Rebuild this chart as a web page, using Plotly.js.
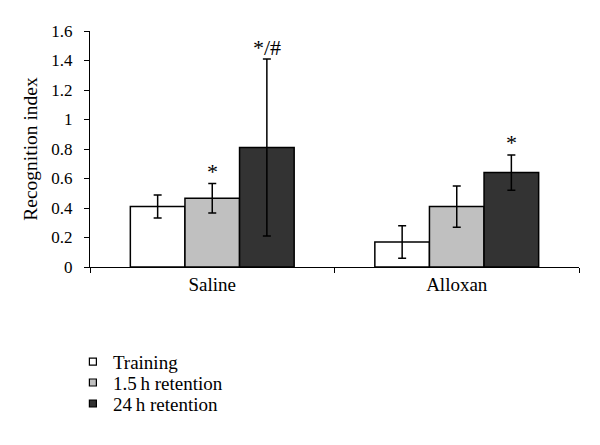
<!DOCTYPE html>
<html>
<head>
<meta charset="utf-8">
<script src="https://cdn.plot.ly/plotly-3.0.1.min.js"></script>
<style>html,body{margin:0;padding:0;background:#fff;}#chart{width:600px;height:445px;}</style>
</head>
<body>
<div id="chart"></div>
<script>
var categories = ["Saline", "Alloxan"];
var seriesNames = ["Training", "1.5\u2009h retention", "24\u2009h retention"];
var training = [0.41, 0.17];
var trainingErr = [0.078, 0.11];
var ret15 = [0.466, 0.41];
var ret15Err = [0.10, 0.14];
var ret24 = [0.81, 0.64];
var ret24Err = [0.60, 0.12];
var yTicks = [0, 0.2, 0.4, 0.6, 0.8, 1, 1.2, 1.4, 1.6];
var yTickLabels = ["0", "0.2", "0.4", "0.6", "0.8", "1", "1.2", "1.4", "1.6"];
// significance marks: [category, seriesIndex, label]
var marks = [["Saline", 1, "*"], ["Saline", 2, "*/#"], ["Alloxan", 2, "*"]];

var colors = ["#ffffff", "#c0c0c0", "#333333"];
var vals = [training, ret15, ret24];
var errs = [trainingErr, ret15Err, ret24Err];
var FONT = "'Liberation Serif', 'DejaVu Serif', serif";
var legendIds = ["legend", "legend2", "legend3"];
var legendY = [-0.402, -0.49, -0.579];

var traces = vals.map(function (v, i) {
  return {
    type: "bar",
    name: seriesNames[i],
    x: categories,
    y: v,
    showlegend: false,
    marker: {color: colors[i], line: {color: "#000", width: 1.5}},
    error_y: {type: "data", array: errs[i], visible: true, color: "#000", thickness: 1.5, width: 4},
    hoverinfo: "skip"
  };
});
// legend entries: small square swatches, one legend per entry
seriesNames.forEach(function (n, i) {
  traces.push({
    type: "scatter", mode: "markers", name: n,
    x: [null], y: [null],
    legend: legendIds[i],
    showlegend: true,
    marker: {symbol: "square", size: 7, color: colors[i], line: {color: "#000", width: 1.2}},
    hoverinfo: "skip"
  });
});

var annotations = marks.map(function (m) {
  var ci = categories.indexOf(m[0]);
  var s = m[1];
  var top = vals[s][ci] + errs[s][ci];
  return {
    x: ci + (s - 1) * 0.223,
    y: top,
    xref: "x", yref: "y",
    text: m[2],
    showarrow: false,
    yanchor: "bottom",
    yshift: m[2].length > 1 ? -3 : -2,
    font: {family: FONT, size: 22, color: "#000"}
  };
});

var layout = {
  width: 600, height: 445,
  margin: {l: 90, r: 21, t: 31, b: 178},
  paper_bgcolor: "#fff", plot_bgcolor: "#fff",
  barmode: "group",
  bargap: 0.33,
  bargroupgap: 0,
  font: {family: FONT, size: 17, color: "#000"},
  showlegend: true,
  xaxis: {
    type: "category",
    showline: true, linecolor: "#000", linewidth: 1,
    ticks: "outside", tickson: "boundaries", ticklen: 5, tickcolor: "#000",
    tickfont: {family: FONT, size: 19, color: "#000"},
    showgrid: false, zeroline: false,
    fixedrange: true
  },
  yaxis: {
    range: [0, 1.6],
    tickvals: yTicks, ticktext: yTickLabels,
    showline: true, linecolor: "#000", linewidth: 1,
    ticks: "outside", ticklen: 5, tickcolor: "#000",
    ticklabelstandoff: 8,
    tickfont: {family: FONT, size: 17, color: "#000"},
    showgrid: false, zeroline: false,
    title: {text: "Recognition index", font: {family: FONT, size: 19.5, color: "#000"}, standoff: 8},
    fixedrange: true
  },
  annotations: annotations
};
legendIds.forEach(function (id, i) {
  layout[id] = {
    x: -0.035, xanchor: "left",
    y: legendY[i], yanchor: "middle",
    orientation: "v",
    bgcolor: "rgba(0,0,0,0)",
    font: {family: FONT, size: 19, color: "#000"}
  };
});

Plotly.newPlot("chart", traces, layout, {displayModeBar: false, staticPlot: true});
</script>
</body>
</html>
